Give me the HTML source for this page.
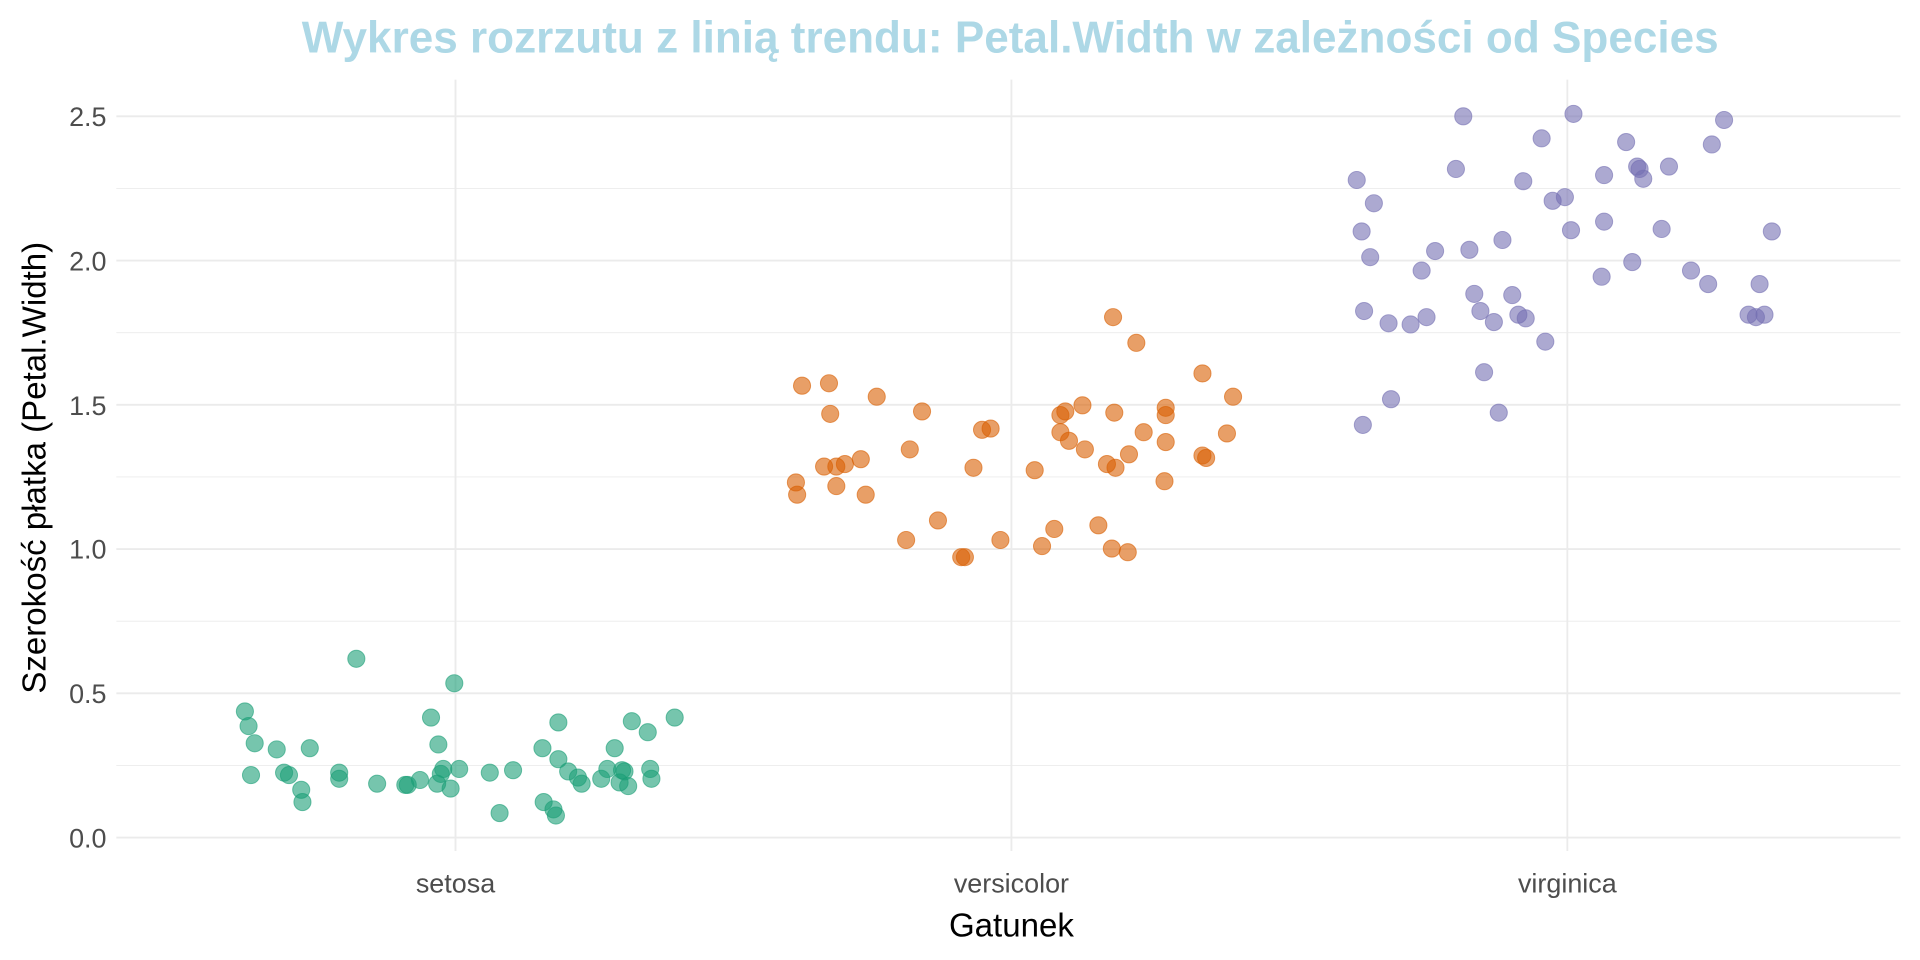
<!DOCTYPE html>
<html><head><meta charset="utf-8"><style>html,body{margin:0;padding:0;background:#fff}svg{display:block}</style></head>
<body>
<svg width="1920" height="960" viewBox="0 0 1568 784" xmlns="http://www.w3.org/2000/svg" font-family="Liberation Sans, sans-serif">
<rect width="1568" height="784" fill="#fff"/>
<g stroke="#ebebeb">
<g stroke-width="0.7">
<line x1="95" x2="1552" y1="625.1" y2="625.1"/><line x1="95" x2="1552" y1="507.3" y2="507.3"/>
<line x1="95" x2="1552" y1="389.5" y2="389.5"/><line x1="95" x2="1552" y1="271.7" y2="271.7"/>
<line x1="95" x2="1552" y1="153.9" y2="153.9"/>
</g>
<g stroke-width="1.5">
<line x1="95" x2="1552" y1="684" y2="684"/><line x1="95" x2="1552" y1="566.2" y2="566.2"/>
<line x1="95" x2="1552" y1="448.4" y2="448.4"/><line x1="95" x2="1552" y1="330.6" y2="330.6"/>
<line x1="95" x2="1552" y1="212.8" y2="212.8"/><line x1="95" x2="1552" y1="95" y2="95"/>
<line x1="372" x2="372" y1="65" y2="695"/><line x1="826" x2="826" y1="65" y2="695"/><line x1="1280" x2="1280" y1="65" y2="695"/>
</g></g>
<g font-size="22" fill="#4d4d4d" text-anchor="end">
<text x="87" y="692">0.0</text><text x="87" y="574">0.5</text><text x="87" y="456">1.0</text>
<text x="87" y="339">1.5</text><text x="87" y="221">2.0</text><text x="87" y="103">2.5</text>
</g>
<g font-size="22" fill="#4d4d4d" text-anchor="middle">
<text x="372" y="729">setosa</text><text x="826" y="729">versicolor</text><text x="1280" y="729">virginica</text>
</g>
<text x="826" y="765" font-size="27" text-anchor="middle" fill="#000">Gatunek</text>
<text transform="translate(37,382) rotate(-90)" font-size="27" text-anchor="middle" fill="#000">Szerokość płatka (Petal.Width)</text>
<text x="825" y="43" font-size="36" font-weight="bold" text-anchor="middle" fill="#add8e6">Wykres rozrzutu z linią trendu: Petal.Width w zależności od Species</text>
<g fill="#1b9e77" stroke="#1b9e77" fill-opacity="0.6" stroke-opacity="0.6" stroke-width="0.8">
<circle cx="200" cy="581" r="7"/><circle cx="203" cy="593" r="7"/><circle cx="208" cy="607" r="7"/><circle cx="205" cy="633" r="7"/><circle cx="226" cy="612" r="7"/><circle cx="232" cy="631" r="7"/><circle cx="236" cy="633" r="7"/><circle cx="246" cy="645" r="7"/><circle cx="247" cy="655" r="7"/><circle cx="253" cy="611" r="7"/><circle cx="277" cy="631" r="7"/><circle cx="277" cy="636" r="7"/><circle cx="291" cy="538" r="7"/><circle cx="308" cy="640" r="7"/><circle cx="331" cy="641" r="7"/><circle cx="333" cy="641" r="7"/><circle cx="343" cy="637" r="7"/><circle cx="352" cy="586" r="7"/><circle cx="358" cy="608" r="7"/><circle cx="357" cy="640" r="7"/><circle cx="360" cy="632" r="7"/><circle cx="362" cy="628" r="7"/><circle cx="368" cy="644" r="7"/><circle cx="371" cy="558" r="7"/><circle cx="375" cy="628" r="7"/><circle cx="400" cy="631" r="7"/><circle cx="408" cy="664" r="7"/><circle cx="419" cy="629" r="7"/><circle cx="443" cy="611" r="7"/><circle cx="444" cy="655" r="7"/><circle cx="452" cy="661" r="7"/><circle cx="454" cy="666" r="7"/><circle cx="456" cy="590" r="7"/><circle cx="456" cy="620" r="7"/><circle cx="464" cy="630" r="7"/><circle cx="472" cy="635" r="7"/><circle cx="475" cy="640" r="7"/><circle cx="491" cy="636" r="7"/><circle cx="496" cy="628" r="7"/><circle cx="502" cy="611" r="7"/><circle cx="506" cy="639" r="7"/><circle cx="508" cy="629" r="7"/><circle cx="510" cy="630" r="7"/><circle cx="513" cy="642" r="7"/><circle cx="516" cy="589" r="7"/><circle cx="529" cy="598" r="7"/><circle cx="531" cy="628" r="7"/><circle cx="532" cy="636" r="7"/><circle cx="551" cy="586" r="7"/>
</g>
<g fill="#d95f02" stroke="#d95f02" fill-opacity="0.6" stroke-opacity="0.6" stroke-width="0.8">
<circle cx="650" cy="394" r="7"/><circle cx="651" cy="404" r="7"/><circle cx="655" cy="315" r="7"/><circle cx="673" cy="381" r="7"/><circle cx="677" cy="313" r="7"/><circle cx="678" cy="338" r="7"/><circle cx="683" cy="381" r="7"/><circle cx="683" cy="397" r="7"/><circle cx="690" cy="379" r="7"/><circle cx="703" cy="375" r="7"/><circle cx="707" cy="404" r="7"/><circle cx="716" cy="324" r="7"/><circle cx="740" cy="441" r="7"/><circle cx="743" cy="367" r="7"/><circle cx="753" cy="336" r="7"/><circle cx="766" cy="425" r="7"/><circle cx="785" cy="455" r="7"/><circle cx="788" cy="455" r="7"/><circle cx="795" cy="382" r="7"/><circle cx="802" cy="351" r="7"/><circle cx="809" cy="350" r="7"/><circle cx="817" cy="441" r="7"/><circle cx="845" cy="384" r="7"/><circle cx="851" cy="446" r="7"/><circle cx="861" cy="432" r="7"/><circle cx="866" cy="339" r="7"/><circle cx="866" cy="353" r="7"/><circle cx="870" cy="336" r="7"/><circle cx="873" cy="360" r="7"/><circle cx="884" cy="331" r="7"/><circle cx="886" cy="367" r="7"/><circle cx="897" cy="429" r="7"/><circle cx="904" cy="379" r="7"/><circle cx="908" cy="448" r="7"/><circle cx="909" cy="259" r="7"/><circle cx="910" cy="337" r="7"/><circle cx="911" cy="382" r="7"/><circle cx="921" cy="451" r="7"/><circle cx="922" cy="371" r="7"/><circle cx="928" cy="280" r="7"/><circle cx="934" cy="353" r="7"/><circle cx="951" cy="393" r="7"/><circle cx="952" cy="333" r="7"/><circle cx="952" cy="339" r="7"/><circle cx="952" cy="361" r="7"/><circle cx="982" cy="305" r="7"/><circle cx="982" cy="372" r="7"/><circle cx="985" cy="374" r="7"/><circle cx="1002" cy="354" r="7"/><circle cx="1007" cy="324" r="7"/>
</g>
<g fill="#7570b3" stroke="#7570b3" fill-opacity="0.6" stroke-opacity="0.6" stroke-width="0.8">
<circle cx="1108" cy="147" r="7"/><circle cx="1112" cy="189" r="7"/><circle cx="1113" cy="347" r="7"/><circle cx="1114" cy="254" r="7"/><circle cx="1119" cy="210" r="7"/><circle cx="1122" cy="166" r="7"/><circle cx="1134" cy="264" r="7"/><circle cx="1136" cy="326" r="7"/><circle cx="1152" cy="265" r="7"/><circle cx="1161" cy="221" r="7"/><circle cx="1165" cy="259" r="7"/><circle cx="1172" cy="205" r="7"/><circle cx="1189" cy="138" r="7"/><circle cx="1195" cy="95" r="7"/><circle cx="1200" cy="204" r="7"/><circle cx="1204" cy="240" r="7"/><circle cx="1209" cy="254" r="7"/><circle cx="1212" cy="304" r="7"/><circle cx="1220" cy="263" r="7"/><circle cx="1224" cy="337" r="7"/><circle cx="1227" cy="196" r="7"/><circle cx="1235" cy="241" r="7"/><circle cx="1240" cy="257" r="7"/><circle cx="1244" cy="148" r="7"/><circle cx="1246" cy="260" r="7"/><circle cx="1259" cy="113" r="7"/><circle cx="1262" cy="279" r="7"/><circle cx="1268" cy="164" r="7"/><circle cx="1278" cy="161" r="7"/><circle cx="1283" cy="188" r="7"/><circle cx="1285" cy="93" r="7"/><circle cx="1308" cy="226" r="7"/><circle cx="1310" cy="143" r="7"/><circle cx="1310" cy="181" r="7"/><circle cx="1328" cy="116" r="7"/><circle cx="1333" cy="214" r="7"/><circle cx="1337" cy="136" r="7"/><circle cx="1339" cy="138" r="7"/><circle cx="1342" cy="146" r="7"/><circle cx="1357" cy="187" r="7"/><circle cx="1363" cy="136" r="7"/><circle cx="1381" cy="221" r="7"/><circle cx="1395" cy="232" r="7"/><circle cx="1398" cy="118" r="7"/><circle cx="1408" cy="98" r="7"/><circle cx="1428" cy="257" r="7"/><circle cx="1434" cy="259" r="7"/><circle cx="1437" cy="232" r="7"/><circle cx="1441" cy="257" r="7"/><circle cx="1447" cy="189" r="7"/>
</g>
</svg>
</body></html>
